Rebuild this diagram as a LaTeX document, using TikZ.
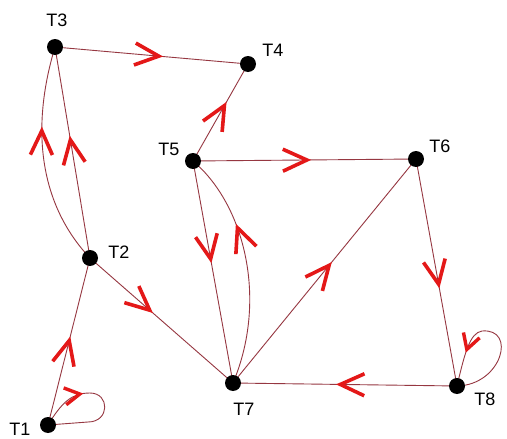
\documentclass[tikz,border=0pt]{standalone}
\usepackage{fontspec}
\setmainfont{Liberation Sans}
\usetikzlibrary{arrows.meta,decorations.markings}
\definecolor{edgecol}{RGB}{150,55,65}
\definecolor{chevcol}{RGB}{228,24,24}
\tikzset{
  vtx/.style={circle,fill=black,inner sep=0pt,minimum size=16pt},
  lbl/.style={inner sep=0pt,font=\fontsize{18}{18}\selectfont},
  edge/.style={draw=edgecol,line width=0.9pt},
  chev/.tip={Straight Barb[length=24pt,width=22pt,line width=3.6pt,color=chevcol]},
  chevs/.tip={Straight Barb[length=15pt,width=17pt,line width=3.4pt,color=chevcol]},
  midarr/.style={postaction={decorate,decoration={markings,mark=at position #1 with {\arrow{chev}}}}},
  midarrs/.style={postaction={decorate,decoration={markings,mark=at position #1 with {\arrow{chevs}}}}}
}
\begin{document}
\begin{tikzpicture}[x=1pt,y=-1pt]
\useasboundingbox[fill=white] (0,0) rectangle (507,439);
% vertex positions
\coordinate (T1) at (48,425);
\coordinate (T2) at (90,258);
\coordinate (T3) at (55,47);
\coordinate (T4) at (248,64);
\coordinate (T5) at (193,161);
\coordinate (T6) at (416,159);
\coordinate (T7) at (233,383);
\coordinate (T8) at (457,386);
% edges
\path[edge,midarr=0.53] (T1) -- (T2);
\path[edge,midarrs=0.34] (T1) .. controls (62,402) and (72,393) .. (90,393) .. controls (110,393) and (110,422) .. (88,422) -- (T1);
\path[edge,midarr=0.58] (T2) -- (T3);
\path[edge,midarr=0.64] (T2) .. controls (40,205) and (30,130) .. (T3);
\path[edge,midarr=0.56] (T3) -- (T4);
\path[edge,midarr=0.61] (T5) -- (T4);
\path[edge,midarr=0.53] (T5) -- (T6);
\path[edge,midarr=0.44] (T2) -- (T7);
\path[edge,midarr=0.46] (T5) -- (T7);
\path[edge,midarr=0.68] (T7) .. controls (268,300) and (245,205) .. (T5);
\path[edge,midarr=0.54] (T7) -- (T6);
\path[edge,midarr=0.57] (T6) -- (T8);
\path[edge,midarr=0.54] (T8) -- (T7);
\path[edge,midarrs=0.78] (T8) .. controls (502,385) and (517,328) .. (482,331) .. controls (470,333) and (465,352) .. (T8);
% vertices
\node[vtx] (n1) at (T1) {};
\node[vtx] (n2) at (T2) {};
\node[vtx] (n3) at (T3) {};
\node[vtx] (n4) at (T4) {};
\node[vtx] (n5) at (T5) {};
\node[vtx] (n6) at (T6) {};
\node[vtx] (n7) at (T7) {};
\node[vtx] (n8) at (T8) {};
% labels
\node[lbl] (l1) at (20,429) {T1};
\node[lbl] (l2) at (119,252) {T2};
\node[lbl] (l3) at (57,20) {T3};
\node[lbl] (l4) at (273,50) {T4};
\node[lbl] (l5) at (169,149) {T5};
\node[lbl] (l6) at (440,146) {T6};
\node[lbl] (l7) at (244,409) {T7};
\node[lbl] (l8) at (485,399) {T8};
\end{tikzpicture}
\end{document}
